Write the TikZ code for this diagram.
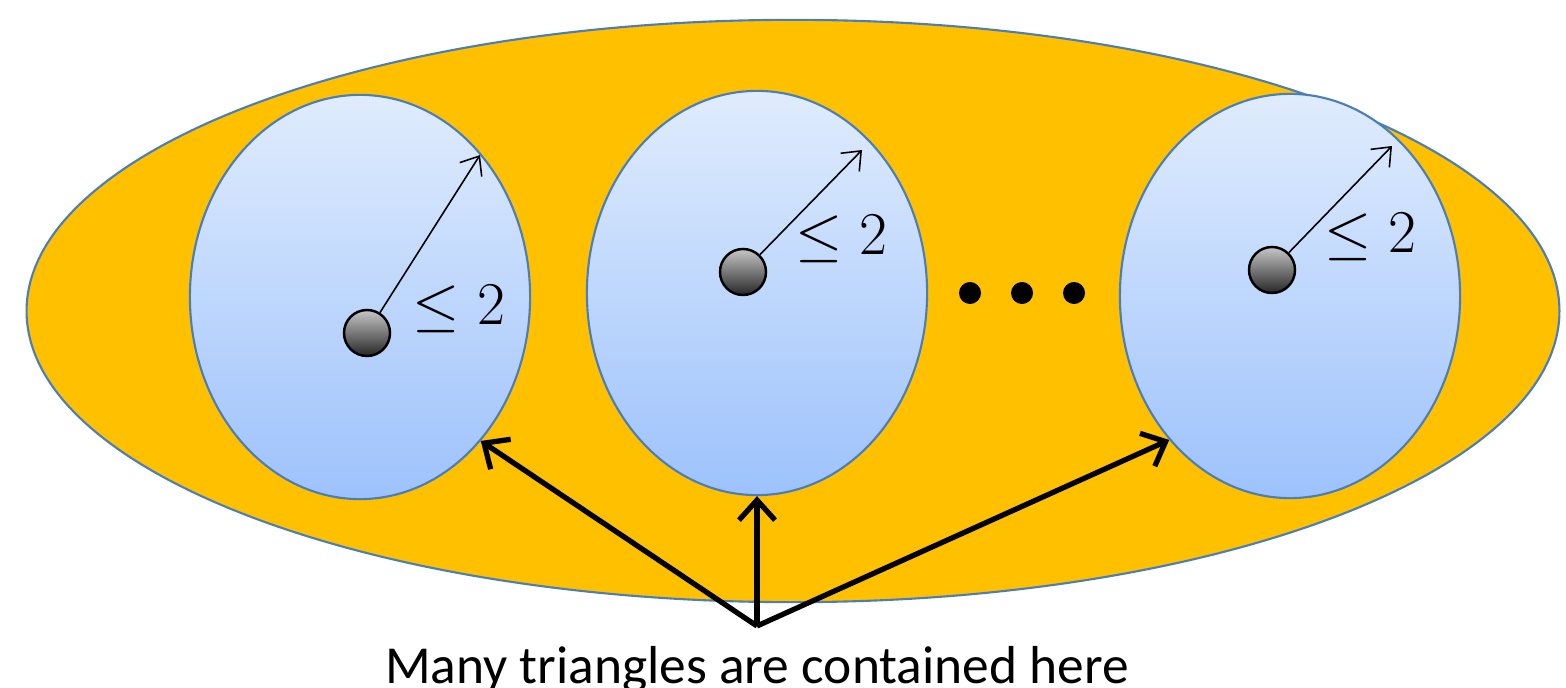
\documentclass[tikz,border=0pt]{standalone}
\usepackage{fontspec}
\newfontfamily\calibrifont{Carlito}
\usetikzlibrary{shapes.geometric,arrows.meta}
\definecolor{gold}{HTML}{FFC000}
\definecolor{rimblue}{HTML}{4A7EBB}
\definecolor{skytop}{HTML}{E0ECFD}
\definecolor{skybot}{HTML}{9DC2FC}
\tikzset{
	cell/.style={ellipse, draw=rimblue, line width=0.6pt, top color=skytop, bottom color=skybot,
		minimum width=3.4cm, minimum height=4.04cm, inner sep=0pt},
	ball/.style={circle, draw=black, line width=0.7pt, top color=black!22, bottom color=black!85,
		minimum size=0.46cm, inner sep=0pt},
	bound/.style={font=\fontsize{18.5}{22}\selectfont, inner sep=0pt},
	radius arrow/.style={-{Straight Barb[length=1.6mm,width=2.6mm]}, line width=0.45pt},
	point arrow/.style={-{Straight Barb[length=2mm,width=3.6mm]}, line width=1.5pt},
	dot/.style={circle, fill=black, minimum size=0.22cm, inner sep=0pt},
}
\begin{document}
\begin{tikzpicture}[x=0.01cm,y=-0.01cm]
	\useasboundingbox (0,0) rectangle (1566,688);
	\draw[draw=rimblue, line width=0.6pt, fill=gold] (793,311) ellipse [x radius=7.66cm, y radius=2.91cm];

	\node[cell] (c1) at (360,297) {};
	\node[cell] (c2) at (757,293) {};
	\node[cell] (c3) at (1290,296) {};

	\node[ball] (b1) at (367,333) {};
	\node[ball] (b2) at (743,272) {};
	\node[ball] (b3) at (1272,270) {};

	\coordinate (t1) at (480,155);
	\coordinate (t2) at (862,150);
	\coordinate (t3) at (1392,146);
	\draw[radius arrow] (b1) -- (t1);
	\draw[radius arrow] (b2) -- (t2);
	\draw[radius arrow] (b3) -- (t3);

	\node[bound] (l1) at (459,309) {$\leq 2$};
	\node[bound] (l2) at (841,239) {$\leq 2$};
	\node[bound] (l3) at (1370,237) {$\leq 2$};

	\node[dot] (d1) at (970,293) {};
	\node[dot] (d2) at (1022,293) {};
	\node[dot] (d3) at (1074,293) {};

	\coordinate (src) at (757,626);
	\draw[point arrow] (src) -- (c1.-50);
	\draw[point arrow] (src) -- (c2.south);
	\draw[point arrow] (src) -- (c3.-130);

	\node[anchor=base, inner sep=0pt, font=\calibrifont\fontsize{15.2}{18}\selectfont] (cap) at (757,683) {Many triangles are contained here};
\end{tikzpicture}
\end{document}
